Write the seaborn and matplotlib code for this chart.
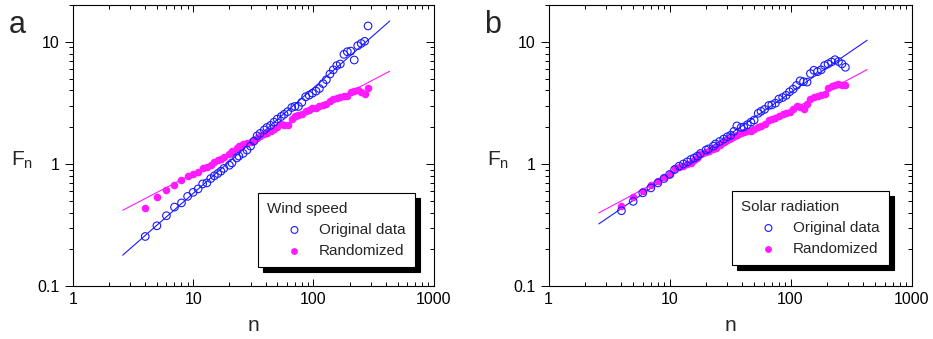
import numpy as np
import pandas as pd
import matplotlib
matplotlib.use("Agg")
import matplotlib.pyplot as plt
import seaborn as sns
from matplotlib.ticker import LogLocator, FuncFormatter, NullFormatter

# window sizes n (shared by all series)
n_values = [4, 5, 6, 7, 8, 9, 10, 11, 12, 13, 14, 15, 16, 17, 18, 20, 21, 23, 24, 26,
            28, 30, 32, 34, 36, 39, 41, 44, 47, 50, 54, 57, 61, 66, 70, 75, 80, 86, 92, 98,
            105, 112, 120, 128, 137, 146, 156, 167, 179, 191, 204, 218, 233, 249, 266, 284]

# panel a: wind speed
wind_original = [0.255, 0.312, 0.377, 0.444, 0.48, 0.543, 0.586, 0.625, 0.687, 0.70,
                 0.76, 0.80, 0.835, 0.873, 0.92, 0.977, 1.02, 1.12, 1.16, 1.22,
                 1.30, 1.40, 1.54, 1.70, 1.78, 1.90, 1.99, 2.07, 2.20, 2.33,
                 2.45, 2.55, 2.68, 2.90, 2.96, 2.96, 3.20, 3.55, 3.66, 3.80,
                 3.95, 4.15, 4.55, 4.90, 5.45, 5.90, 6.39, 6.59, 7.9, 8.3,
                 8.4, 7.1, 9.3, 9.7, 10.1, 13.5]
wind_random = [0.44, 0.533, 0.617, 0.678, 0.745, 0.794, 0.83, 0.857, 0.93, 0.948,
               0.99, 1.035, 1.075, 1.10, 1.15, 1.197, 1.27, 1.34, 1.40, 1.45,
               1.49, 1.52, 1.56, 1.62, 1.69, 1.75, 1.81, 1.87, 1.92, 2.0,
               2.11, 2.09, 2.07, 2.35, 2.45, 2.52, 2.58, 2.70, 2.78, 2.85,
               2.90, 2.96, 3.02, 3.09, 3.25, 3.40, 3.46, 3.51, 3.58, 3.62,
               3.85, 3.97, 4.05, 3.90, 3.73, 4.16]

# panel b: solar radiation
solar_original = [0.414, 0.494, 0.58, 0.637, 0.70, 0.76, 0.82, 0.90, 0.96, 1.00,
                  1.04, 1.09, 1.12, 1.16, 1.22, 1.30, 1.33, 1.40, 1.46, 1.53,
                  1.60, 1.67, 1.72, 1.85, 2.05, 1.99, 2.01, 2.10, 2.20, 2.29,
                  2.60, 2.70, 2.80, 3.01, 3.05, 3.15, 3.40, 3.50, 3.65, 3.90,
                  4.10, 4.40, 4.80, 4.72, 4.68, 5.50, 5.85, 5.70, 5.90, 6.40,
                  6.60, 6.85, 7.14, 6.90, 6.60, 6.19]
solar_random = [0.45, 0.534, 0.597, 0.67, 0.731, 0.785, 0.83, 0.92, 0.95, 0.97,
                1.00, 1.02, 1.07, 1.12, 1.20, 1.26, 1.28, 1.32, 1.35, 1.42,
                1.50, 1.56, 1.62, 1.68, 1.73, 1.81, 1.84, 1.86, 1.86, 1.92,
                1.99, 2.04, 2.12, 2.28, 2.33, 2.40, 2.48, 2.55, 2.61, 2.68,
                2.82, 2.96, 2.92, 2.84, 3.10, 3.38, 3.52, 3.60, 3.66, 3.73,
                4.20, 4.38, 4.43, 4.48, 4.46, 4.43]

# power-law fits F = A * n^alpha, drawn over n_fit_range
fit_wind_original = (0.0785, 0.864)
fit_wind_random = (0.256, 0.513)
fit_solar_original = (0.169, 0.678)
fit_solar_random = (0.240, 0.529)
n_fit_range = [2.6, 430]

BLUE = "#1a1aff"
MAGENTA = "#ff1aff"

sns.set_style("ticks")
plt.rcParams["font.family"] = ["Liberation Sans", "DejaVu Sans"]
plt.rcParams["mathtext.fontset"] = "custom"
plt.rcParams["mathtext.rm"] = "Liberation Sans"

fig = plt.figure(figsize=(9.33, 3.39), dpi=100)
ax_a = fig.add_axes([0.078, 0.156, 0.387, 0.829])
ax_b = fig.add_axes([0.588, 0.156, 0.389, 0.829])

panels = [
    (ax_a, "a", "Wind speed", wind_original, wind_random,
     fit_wind_original, fit_wind_random, (0.947, 0.068)),
    (ax_b, "b", "Solar radiation", solar_original, solar_random,
     fit_solar_original, fit_solar_random, (0.937, 0.075)),
]

for ax, letter, title, orig, rand, fit_o, fit_r, leg_anchor in panels:
    df = pd.DataFrame({"n": n_values, "orig": orig, "rand": rand})
    nf = np.array(n_fit_range, dtype=float)
    fits = pd.DataFrame({"n": nf,
                         "fo": fit_o[0] * nf ** fit_o[1],
                         "fr": fit_r[0] * nf ** fit_r[1]})

    sns.lineplot(data=fits, x="n", y="fr", ax=ax, color=MAGENTA, lw=0.8)
    sns.lineplot(data=fits, x="n", y="fo", ax=ax, color=BLUE, lw=0.8)
    sns.scatterplot(data=df, x="n", y="rand", ax=ax, color=MAGENTA,
                    s=30, linewidth=0, label="Randomized", zorder=3)
    sns.scatterplot(data=df, x="n", y="orig", ax=ax, marker="o",
                    facecolors="none", edgecolors=BLUE, s=30, linewidth=0.8,
                    label="Original data", zorder=4)

    ax.set_xscale("log")
    ax.set_yscale("log")
    ax.set_xlim(1, 1000)
    ax.set_ylim(0.1, 20)
    fmt = FuncFormatter(lambda v, p: f"{v:g}")
    ax.xaxis.set_major_formatter(fmt)
    ax.yaxis.set_major_formatter(fmt)
    ax.xaxis.set_minor_formatter(NullFormatter())
    ax.yaxis.set_minor_formatter(NullFormatter())
    ax.yaxis.set_major_locator(LogLocator(base=10, numticks=10))
    ax.yaxis.set_minor_locator(LogLocator(base=10, subs=np.arange(2, 10), numticks=10))

    for sp in ax.spines.values():
        sp.set_linewidth(0.8)
        sp.set_color("black")
    ax.tick_params(axis="x", which="both", direction="in", top=True,
                   labelsize=11.5, colors="black", width=0.7, pad=4)
    ax.tick_params(axis="x", which="major", length=5)
    ax.tick_params(axis="x", which="minor", length=3)
    ax.tick_params(axis="y", which="both", direction="out", right=False,
                   labelsize=11.5, colors="black", width=0.7)
    ax.tick_params(axis="y", which="major", length=6)
    ax.tick_params(axis="y", which="minor", length=3)

    # right side ticks point inward
    tw = ax.twinx()
    tw.set_yscale("log")
    tw.set_ylim(0.1, 20)
    tw.yaxis.set_minor_locator(LogLocator(base=10, subs=np.arange(2, 10), numticks=10))
    tw.tick_params(axis="y", which="both", direction="in", labelright=False,
                   width=0.7, colors="black")
    tw.tick_params(axis="y", which="major", length=6)
    tw.tick_params(axis="y", which="minor", length=3)
    for sp in tw.spines.values():
        sp.set_visible(False)

    ax.set_xlabel("n", fontsize=15, labelpad=7)
    ax.set_ylabel("")

    handles, labels = ax.get_legend_handles_labels()
    order = [labels.index("Original data"), labels.index("Randomized")]
    leg = ax.legend([handles[i] for i in order], [labels[i] for i in order],
                    title=title, loc="lower right", bbox_to_anchor=leg_anchor,
                    borderaxespad=0, fancybox=False, framealpha=1, edgecolor="black",
                    shadow={"color": "black", "alpha": 1, "ox": 3.5, "oy": -3.5},
                    fontsize=11, title_fontsize=11, alignment="left",
                    handlelength=3.6, handletextpad=-0.2, borderpad=0.6,
                    labelspacing=0.45, markerscale=0.9)
    leg.get_frame().set_linewidth(0.8)
    leg.set_zorder(10)

    pos = ax.get_position()
    fig.text(pos.x0 - 0.069, 0.97, letter, fontsize=22, va="top", ha="left")
    fig.text(pos.x0 - 0.066, 1 - 160 / 339, r"F$_\mathregular{n}$", fontsize=15,
             va="center", ha="left")

fig.savefig("out.png", dpi=100)
